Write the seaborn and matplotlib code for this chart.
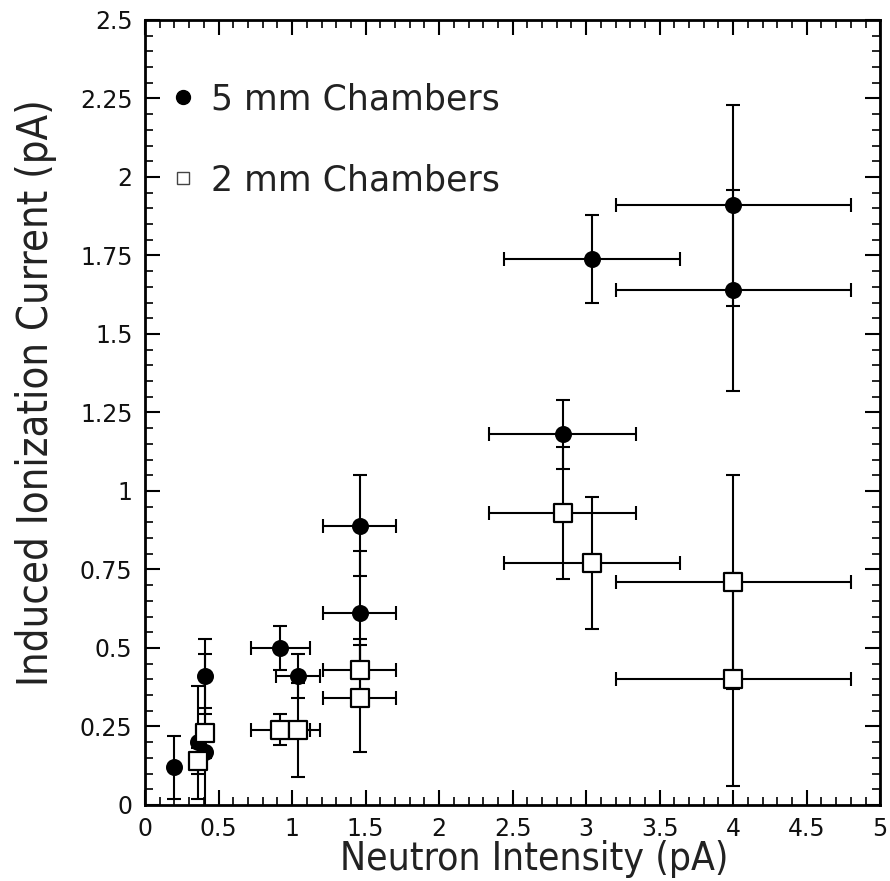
"""
Induced ionization current vs neutron intensity, 5 mm and 2 mm chambers.
"""

import numpy as np
import pandas as pd
import matplotlib
matplotlib.use("Agg")
import matplotlib.pyplot as plt
from matplotlib.lines import Line2D
from matplotlib.ticker import MultipleLocator
import seaborn as sns

# 5 mm chambers (filled circles)
x5 = [0.20, 0.36, 0.41, 0.41, 0.92, 1.04, 1.46, 1.46, 2.84, 3.04, 4.00, 4.00]
y5 = [0.12, 0.20, 0.17, 0.41, 0.50, 0.41, 0.89, 0.61, 1.18, 1.74, 1.91, 1.64]
xe5 = [np.nan, np.nan, np.nan, np.nan, 0.20, 0.15, 0.25, 0.25, 0.50, 0.60, 0.80, 0.80]
ye5 = [0.10, 0.18, 0.31, 0.12, 0.07, 0.07, 0.16, 0.20, 0.11, 0.14, 0.32, 0.32]

# 2 mm chambers (open squares)
x2 = [0.36, 0.41, 0.92, 1.04, 1.46, 1.46, 2.84, 3.04, 4.00, 4.00]
y2 = [0.14, 0.23, 0.24, 0.24, 0.43, 0.34, 0.93, 0.77, 0.71, 0.40]
xe2 = [np.nan, np.nan, 0.20, 0.15, 0.25, 0.25, 0.50, 0.60, 0.80, 0.80]
ye2 = [0.04, 0.08, 0.05, 0.15, 0.10, 0.17, 0.21, 0.21, 0.34, 0.34]

labels = ["5 mm Chambers", "2 mm Chambers"]
xticks = [0, 0.5, 1, 1.5, 2, 2.5, 3, 3.5, 4, 4.5, 5]
yticks = [0, 0.25, 0.5, 0.75, 1, 1.25, 1.5, 1.75, 2, 2.25, 2.5]

sns.set_theme(style="ticks")
plt.rcParams["font.family"] = ["DejaVu Sans"]

df5 = pd.DataFrame({"x": x5, "y": y5})
df2 = pd.DataFrame({"x": x2, "y": y2})

fig = plt.figure(figsize=(8.9, 8.81), dpi=100)
ax = fig.add_axes([0.163, 0.0863, 0.826, 0.891])

ebkw = dict(fmt="none", ecolor="black", elinewidth=1.5, capsize=5, capthick=1.5, zorder=2)
ax.errorbar(x5, y5, xerr=xe5, yerr=ye5, **ebkw)
ax.errorbar(x2, y2, xerr=xe2, yerr=ye2, **ebkw)

sns.scatterplot(data=df5, x="x", y="y", ax=ax, marker="o", s=150, color="black",
                edgecolor="black", linewidth=0, zorder=3, legend=False)
sns.scatterplot(data=df2, x="x", y="y", ax=ax, marker="s", s=150, color="white",
                edgecolor="black", linewidth=1.6, zorder=3, legend=False)

ax.set_xlim(0, 5)
ax.set_ylim(0, 2.5)
ax.set_xticks(xticks)
ax.set_xticklabels(["0", "0.5", "1", "1.5", "2", "2.5", "3", "3.5", "4", "4.5", "5"])
ax.set_yticks(yticks)
ax.set_yticklabels(["0", "0.25", "0.5", "0.75", "1", "1.25", "1.5", "1.75", "2", "2.25", "2.5"])
ax.xaxis.set_minor_locator(MultipleLocator(0.1))
ax.yaxis.set_minor_locator(MultipleLocator(0.05))
ax.tick_params(which="both", direction="in", top=True, right=True, color="black",
               labelsize=17, labelcolor="#111111")
ax.tick_params(which="major", length=11, width=1.5, pad=9)
ax.tick_params(which="minor", length=6, width=1.2)
for sp in ax.spines.values():
    sp.set_linewidth(2)
    sp.set_color("black")

ax.set_xlabel("Neutron Intensity (pA)", fontsize=28, fontstretch="condensed",
              color="#222222", labelpad=-1, x=0.53)
ax.set_ylabel("Induced Ionization Current (pA)", fontsize=30, fontstretch="condensed",
              color="#222222")
ax.yaxis.set_label_coords(-0.12, 0.525)

handles = [
    Line2D([], [], ls="", marker="o", ms=10, color="black"),
    Line2D([], [], ls="", marker="s", ms=9, mfc="white", mec="#444444", mew=1.0),
]
ax.legend(handles, labels, loc="upper left", bbox_to_anchor=(-0.012, 0.96), frameon=False,
          fontsize=25, handletextpad=0.35, labelspacing=1.35, handlelength=0.9,
          labelcolor="#222222")

fig.savefig("out.png", dpi=100)
